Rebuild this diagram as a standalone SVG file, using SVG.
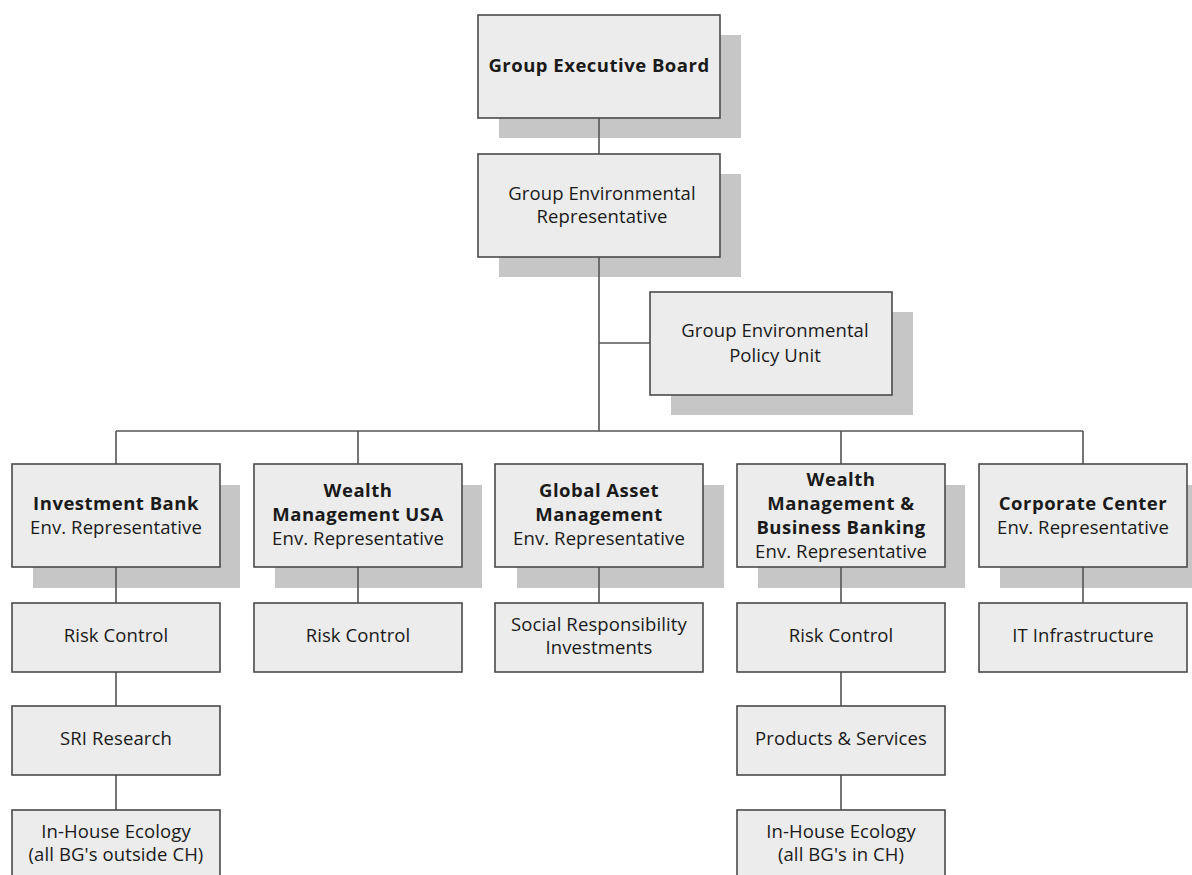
<svg xmlns="http://www.w3.org/2000/svg" width="1192" height="875" viewBox="0 0 1192 875">
<style>
.bg{fill:#ffffff}
.sh{fill:#c6c6c6}
.box{fill:#ececec;stroke:#4a4a4a;stroke-width:1.6}
.ln{stroke:#555555;stroke-width:1.6;fill:none}
text{font-family:"Open Sans","Liberation Sans",sans-serif;font-size:18.5px;letter-spacing:0.1px;fill:#1a1a1a;text-anchor:middle}
.b{font-weight:bold;font-size:18.5px;letter-spacing:0.5px}
</style>
<rect class="bg" x="0" y="0" width="1192" height="875"/>
<g id="shadows">
<rect class="sh" x="499" y="35" width="242" height="103"/>
<rect class="sh" x="499" y="174" width="242" height="103"/>
<rect class="sh" x="671" y="312" width="242" height="103"/>
<rect class="sh" x="33" y="485" width="207" height="103"/>
<rect class="sh" x="275" y="485" width="207" height="103"/>
<rect class="sh" x="517" y="485" width="207" height="103"/>
<rect class="sh" x="758" y="485" width="207" height="103"/>
<rect class="sh" x="1000" y="485" width="207" height="103"/>
</g>
<g id="connectors">
<path class="ln" d="M599 118V154M599 257V431M599 343H650M116 431H1083M116 431V464M358 431V464M841 431V464M1083 431V464M116 567V603M358 567V603M599 567V603M841 567V603M1083 567V603M116 672V706M116 775V810M841 672V706M841 775V810"/>
</g>
<g id="n-geb"><rect class="box" x="478" y="15" width="242" height="103"/><text class="b" x="599" y="72">Group Executive Board</text></g>
<g id="n-ger"><rect class="box" x="478" y="154" width="242" height="103"/><text x="602" y="200">Group Environmental</text><text x="602" y="223">Representative</text></g>
<g id="n-gepu"><rect class="box" x="650" y="292" width="242" height="103"/><text x="775" y="337">Group Environmental</text><text x="775" y="362">Policy Unit</text></g>
<g id="n-ib"><rect class="box" x="12" y="464" width="208" height="103"/><text class="b" x="116" y="510">Investment Bank</text><text x="116" y="534">Env. Representative</text></g>
<g id="n-wmusa"><rect class="box" x="254" y="464" width="208" height="103"/><text class="b" x="358" y="497">Wealth</text><text class="b" x="358" y="521">Management USA</text><text x="358" y="545">Env. Representative</text></g>
<g id="n-gam"><rect class="box" x="495" y="464" width="208" height="103"/><text class="b" x="599" y="497">Global Asset</text><text class="b" x="599" y="521">Management</text><text x="599" y="545">Env. Representative</text></g>
<g id="n-wmbb"><rect class="box" x="737" y="464" width="208" height="103"/><text class="b" x="841" y="486">Wealth</text><text class="b" x="841" y="510">Management &amp;</text><text class="b" x="841" y="534">Business Banking</text><text x="841" y="558">Env. Representative</text></g>
<g id="n-cc"><rect class="box" x="979" y="464" width="208" height="103"/><text class="b" x="1083" y="510">Corporate Center</text><text x="1083" y="534">Env. Representative</text></g>
<g id="n-rc1"><rect class="box" x="12" y="603" width="208" height="69"/><text x="116" y="642">Risk Control</text></g>
<g id="n-rc2"><rect class="box" x="254" y="603" width="208" height="69"/><text x="358" y="642">Risk Control</text></g>
<g id="n-sri-inv"><rect class="box" x="495" y="603" width="208" height="69"/><text x="599" y="631">Social Responsibility</text><text x="599" y="654">Investments</text></g>
<g id="n-rc3"><rect class="box" x="737" y="603" width="208" height="69"/><text x="841" y="642">Risk Control</text></g>
<g id="n-it"><rect class="box" x="979" y="603" width="208" height="69"/><text x="1083" y="642">IT Infrastructure</text></g>
<g id="n-sri"><rect class="box" x="12" y="706" width="208" height="69"/><text x="116" y="745">SRI Research</text></g>
<g id="n-ps"><rect class="box" x="737" y="706" width="208" height="69"/><text x="841" y="745">Products &amp; Services</text></g>
<g id="n-ihe1"><rect class="box" x="12" y="810" width="208" height="80"/><text x="116" y="838">In-House Ecology</text><text x="116" y="861">(all BG's outside CH)</text></g>
<g id="n-ihe2"><rect class="box" x="737" y="810" width="208" height="80"/><text x="841" y="838">In-House Ecology</text><text x="841" y="861">(all BG's in CH)</text></g>
</svg>
